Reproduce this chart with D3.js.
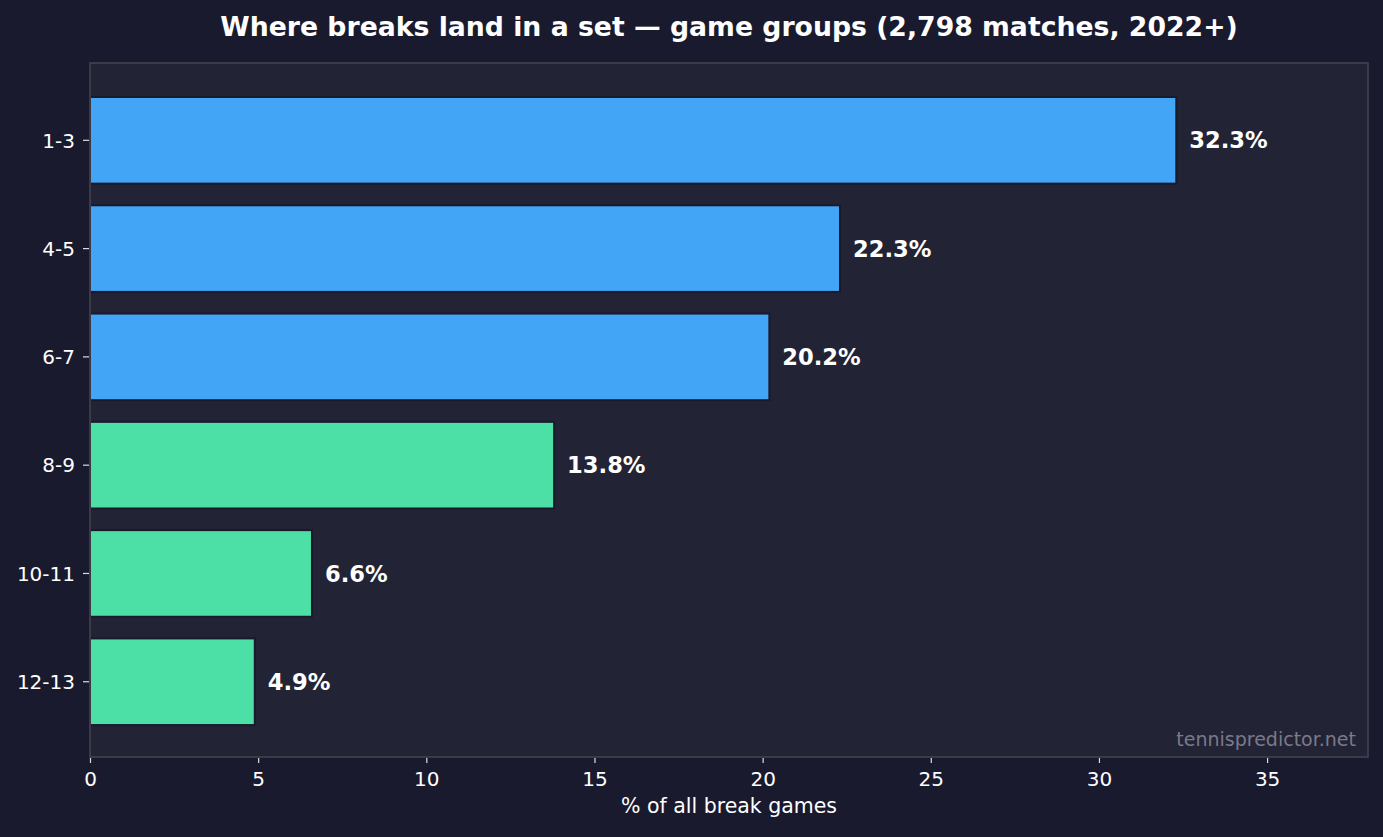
<!DOCTYPE html>
<html><head><meta charset="utf-8">
<script src="https://cdn.jsdelivr.net/npm/d3@7"></script>
<style>html,body{margin:0;padding:0;background:#1a1a2e;}svg{display:block;}</style>
</head><body>
<script>
const categories = ["1-3","4-5","6-7","8-9","10-11","12-13"];
const values = [32.3,22.3,20.2,13.8,6.6,4.9];
const barColors = ["#42a5f5","#42a5f5","#42a5f5","#4cdfa6","#4cdfa6","#4cdfa6"];
const xTicks = [0,5,10,15,20,25,30,35];
const title = "Where breaks land in a set — game groups (2,798 matches, 2022+)";
const xLabel = "% of all break games";
const watermark = "tennispredictor.net";

const W = 1383, H = 837;
const m = {left:90, right:1368, top:63, bottom:757};
const FONT = "'DejaVu Sans', sans-serif";
const svg = d3.select("body").append("svg").attr("width",W).attr("height",H)
  .style("font-family",FONT);
svg.append("rect").attr("width",W).attr("height",H).attr("fill","#1a1a2e");
svg.append("rect").attr("x",m.left).attr("y",m.top).attr("width",m.right-m.left).attr("height",m.bottom-m.top).attr("fill","#232336");

const x = d3.scaleLinear().domain([0,38]).range([m.left,m.right]);
const yIdx = d3.scaleLinear().domain([-0.714,5.695]).range([m.top,m.bottom]);
const bw = yIdx(0.4)-yIdx(-0.4);

svg.selectAll("rect.bar").data(values).join("rect").attr("class","bar")
  .attr("x",x(0)).attr("y",(d,i)=>yIdx(i-0.4)).attr("width",d=>x(d)-x(0)).attr("height",bw)
  .attr("fill",(d,i)=>barColors[i]).attr("stroke","#1a1a2e").attr("stroke-width",2);

svg.selectAll("text.val").data(values).join("text").attr("class","val")
  .attr("x",d=>x(d)+13).attr("y",(d,i)=>yIdx(i)).attr("dy","0.36em")
  .attr("fill","#ffffff").attr("font-weight","bold").attr("font-size",22.6)
  .text(d=>d.toFixed(1)+"%");

// spines
svg.append("rect").attr("x",m.left).attr("y",m.top).attr("width",m.right-m.left).attr("height",m.bottom-m.top)
  .attr("fill","none").attr("stroke","#444450").attr("stroke-width",1.5);

// x axis
const xg = svg.append("g").attr("transform",`translate(0,${m.bottom})`)
  .call(d3.axisBottom(x).tickValues(xTicks).tickSize(6).tickPadding(9).tickFormat(d3.format("d")));
xg.select(".domain").remove();
xg.selectAll("line").attr("stroke","#dddddd").attr("stroke-width",1.2).attr("y1",1);
xg.selectAll("text").attr("fill","#ffffff").attr("font-size",20).attr("font-family",FONT);

// y axis
const yg = svg.append("g").attr("transform",`translate(${m.left},0)`);
categories.forEach((c,i)=>{
  const yy = yIdx(i);
  yg.append("line").attr("x1",-7).attr("x2",-1).attr("y1",yy).attr("y2",yy).attr("stroke","#dddddd").attr("stroke-width",1.2);
  yg.append("text").attr("x",-15).attr("y",yy).attr("dy","0.36em").attr("text-anchor","end")
    .attr("fill","#ffffff").attr("font-size",20).text(c);
});

svg.append("text").attr("x",(m.left+m.right)/2).attr("y",813).attr("text-anchor","middle")
  .attr("fill","#ffffff").attr("font-size",20.5).text(xLabel);

svg.append("text").attr("x",729).attr("y",36).attr("text-anchor","middle")
  .attr("fill","#ffffff").attr("font-size",26.7).attr("font-weight","bold").text(title);

svg.append("text").attr("x",1356).attr("y",746).attr("text-anchor","end")
  .attr("fill","#7a7a88").attr("font-size",19).text(watermark);
</script>
</body></html>
